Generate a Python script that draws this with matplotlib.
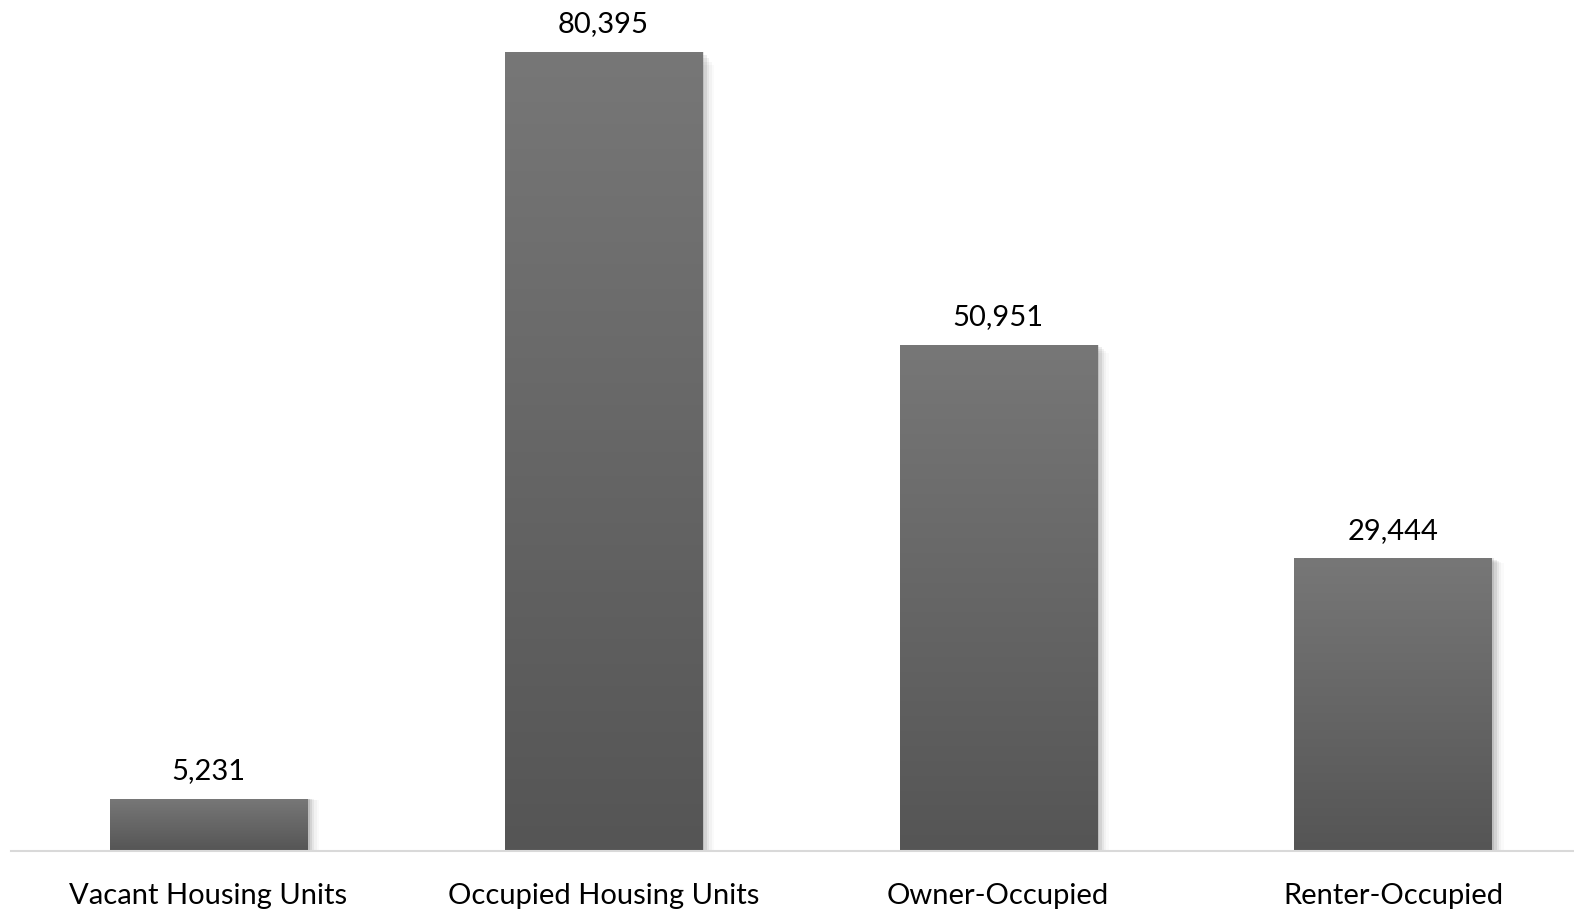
import numpy as np
import matplotlib.pyplot as plt
from matplotlib.patches import Rectangle
from matplotlib.colors import LinearSegmentedColormap

plt.rcParams['font.family'] = ['Lato', 'DejaVu Sans']

categories = ['Vacant Housing Units', 'Occupied Housing Units', 'Owner-Occupied', 'Renter-Occupied']
units = [5231, 80395, 50951, 29444]

W, H = 1574, 910
fig = plt.figure(figsize=(W / 100, H / 100), dpi=100)
ax = fig.add_axes([11 / W, (H - 851) / H, (W - 11) / W, 851 / H])

x = np.arange(len(categories))
bars = ax.bar(x, units, width=0.5, color='none', zorder=3)

# vertical gradient, lighter at the top
grad = np.linspace(0, 1, 256).reshape(-1, 1)
cmap = LinearSegmentedColormap.from_list('bar', ['#555555', '#777777'])

for b in bars:
    x0, w, h = b.get_x(), b.get_width(), b.get_height()
    # soft drop shadow on the right
    for i, a in enumerate([0.10, 0.07, 0.05, 0.03, 0.02]):
        off = 0.006 + i * 0.006
        ax.add_patch(Rectangle((x0 + off, 0), w, h * (1 - 0.004 * i), color='black',
                               alpha=a, lw=0, zorder=2))
    im = ax.imshow(grad, extent=(x0, x0 + w, 0, h), origin='lower', cmap=cmap,
                   aspect='auto', zorder=3)
    clip = Rectangle((x0, 0), w, h, transform=ax.transData, fc='none', ec='none')
    ax.add_patch(clip)
    im.set_clip_path(clip)
    ax.annotate(f'{h:,.0f}', (x0 + w / 2, h), xytext=(0, 20), textcoords='offset points',
                ha='center', va='center', fontsize=21, color='black')

ax.set_xlim(-0.5, 3.458)
ax.set_ylim(0, 85630)
ax.set_xticks(x)
ax.set_xticklabels(categories, fontsize=21)
ax.tick_params(axis='x', length=0, pad=23)
ax.set_yticks([])
for s in ['top', 'right', 'left']:
    ax.spines[s].set_visible(False)
ax.spines['bottom'].set_color('#d9d9d9')
ax.spines['bottom'].set_linewidth(1.5)
ax.spines['bottom'].set_zorder(4)

fig.savefig('out.png', dpi=100)
